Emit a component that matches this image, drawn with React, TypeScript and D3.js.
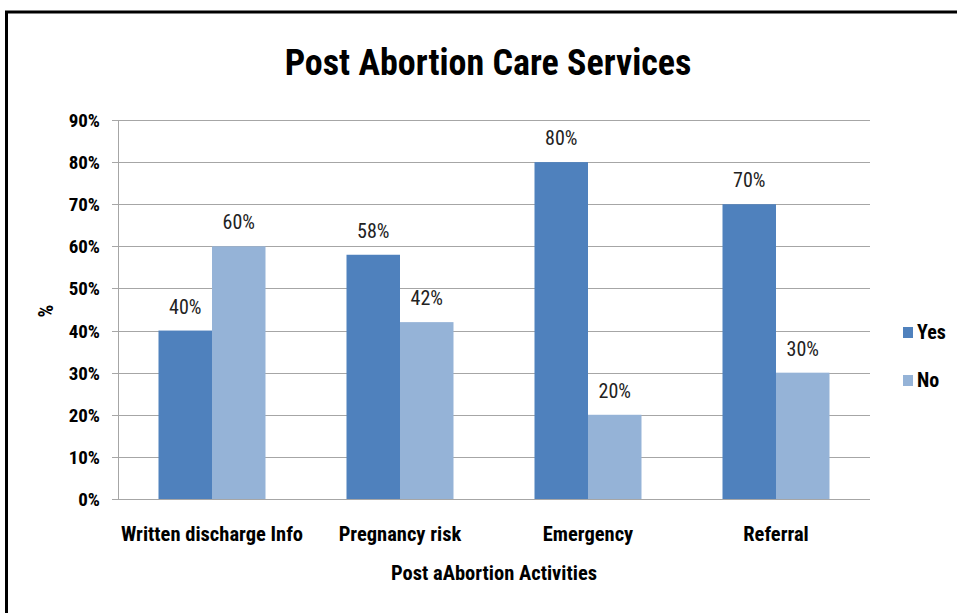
import React from "react";
import * as d3 from "d3";

const categories = ["Written discharge Info", "Pregnancy risk", "Emergency", "Referral"];
const seriesNames = ["Yes", "No"];
const yesValues = [0.4, 0.58, 0.8, 0.7];
const noValues = [0.6, 0.42, 0.2, 0.3];
const yTicks = [0, 0.1, 0.2, 0.3, 0.4, 0.5, 0.6, 0.7, 0.8, 0.9];
const colors = ["#4F81BD", "#95B3D7"];

const W = 957;
const H = 613;
const FONT = "'Liberation Sans Narrow', 'Arial Narrow', 'Roboto Condensed', sans-serif";

export default function App() {
  const left = 118, right = 870, top = 120, bottom = 499;
  const x = d3.scaleBand<string>().domain(categories).range([left, right]).paddingInner(0).paddingOuter(0);
  const inner = d3.scaleBand<string>().domain(seriesNames).range([0, x.bandwidth()]).paddingInner(0).paddingOuter(0.757);
  const y = d3.scaleLinear().domain([0, 0.9]).range([bottom, top]);
  const series = [yesValues, noValues];
  const fmt = d3.format(".0%");

  return (
    <svg width={W} height={H} style={{ position: "absolute", left: 0, top: 0, background: "#fff" }}>
      <rect x={0} y={0} width={W} height={H} fill="#fff" />
      <line x1={6.5} y1={12} x2={6.5} y2={H} stroke="#000" strokeWidth={3} />
      <line x1={5} y1={12} x2={W} y2={12} stroke="#000" strokeWidth={3} />
      <text x={488} y={75} textAnchor="middle" fontFamily={FONT} fontWeight="bold" fontSize={36} fill="#000">
        Post Abortion Care Services
      </text>
      {yTicks.map((t) => (
        <g key={t}>
          <line x1={left - 6} x2={right} y1={Math.round(y(t)) + 0.5} y2={Math.round(y(t)) + 0.5} stroke="#A6A6A6" strokeWidth={1} />
          <text x={100} y={y(t) + 7} textAnchor="end" fontFamily={FONT} fontWeight="bold" fontSize={19} fill="#000">
            {fmt(t)}
          </text>
        </g>
      ))}
      <line x1={left + 0.5} x2={left + 0.5} y1={top} y2={bottom} stroke="#A6A6A6" strokeWidth={1} />
      {categories.map((c, i) => (
        <g key={c}>
          {series.map((vals, s) => {
            const bx = (x(c) as number) + (inner(seriesNames[s]) as number);
            const bw = inner.bandwidth();
            return (
              <g key={s}>
                <rect x={bx} y={y(vals[i])} width={bw} height={y(0) - y(vals[i])} fill={colors[s]} />
                <text x={bx + bw / 2} y={y(vals[i]) - 17} textAnchor="middle" fontFamily={FONT} fontSize={20} fill="#222">
                  {fmt(vals[i])}
                </text>
              </g>
            );
          })}
          <text x={(x(c) as number) + x.bandwidth() / 2} y={541} textAnchor="middle" fontFamily={FONT} fontWeight="bold" fontSize={20.5} fill="#000">
            {c}
          </text>
        </g>
      ))}
      <text x={494} y={580} textAnchor="middle" fontFamily={FONT} fontWeight="bold" fontSize={20.5} fill="#000">
        Post aAbortion Activities
      </text>
      <text transform="translate(53,311) rotate(-90)" textAnchor="middle" fontFamily={FONT} fontWeight="bold" fontSize={20} fill="#000">
        %
      </text>
      {seriesNames.map((n, s) => (
        <g key={n}>
          <rect x={903} y={327 + s * 48} width={10} height={11} fill={colors[s]} />
          <text x={917} y={339 + s * 48} fontFamily={FONT} fontWeight="bold" fontSize={20} fill="#000">
            {n}
          </text>
        </g>
      ))}
    </svg>
  );
}
